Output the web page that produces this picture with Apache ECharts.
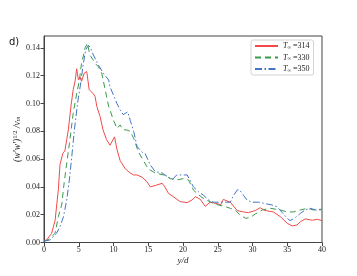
<!DOCTYPE html>
<html>
<head>
<meta charset="utf-8">
<script src="https://cdn.jsdelivr.net/npm/echarts@6/dist/echarts.min.js"></script>
<style>html,body{margin:0;padding:0;background:#fff}#c{width:357px;height:276px}</style>
</head>
<body>
<div id="c"></div>
<script>
var seriesNames = ['314', '330', '350'];
var xTicks = [0, 5, 10, 15, 20, 25, 30, 35, 40];
var yTicks = [0.00, 0.02, 0.04, 0.06, 0.08, 0.10, 0.12, 0.14];

var x314 = [0, 0.4, 1.1, 1.6, 2.06, 2.3, 2.7, 3.0, 3.27, 3.5, 3.9, 4.2, 4.47, 4.7, 4.95, 5.2, 5.4, 5.8, 6.15, 6.5, 7.1, 7.35, 7.6, 8.07, 8.5, 9.0, 9.5, 9.7, 10.15, 10.5, 10.95, 11.7, 12.4, 12.9, 13.4, 14.1, 14.8, 15.3, 16.0, 17.0, 17.4, 17.9, 18.6, 19.6, 20.6, 21.3, 21.8, 22.5, 23.2, 23.9, 24.9, 25.4, 25.8, 26.8, 27.8, 28.7, 29.4, 30.4, 31.1, 31.8, 33.0, 34.0, 35.0, 35.7, 36.4, 36.9, 37.6, 38.6, 39.3, 40];
var y314 = [0.001, 0.002, 0.0066, 0.016, 0.038, 0.056, 0.064, 0.066, 0.074, 0.081, 0.099, 0.110, 0.116, 0.125, 0.117, 0.119, 0.116, 0.122, 0.123, 0.110, 0.107, 0.105, 0.098, 0.0906, 0.081, 0.074, 0.070, 0.071, 0.076, 0.067, 0.059, 0.053, 0.050, 0.0486, 0.0486, 0.047, 0.0438, 0.040, 0.041, 0.0426, 0.040, 0.0354, 0.033, 0.0294, 0.0287, 0.0306, 0.033, 0.031, 0.026, 0.029, 0.028, 0.027, 0.031, 0.029, 0.023, 0.022, 0.0215, 0.023, 0.025, 0.023, 0.022, 0.0186, 0.0138, 0.0119, 0.0126, 0.015, 0.017, 0.016, 0.0167, 0.0157];

var x330 = [0, 0.6, 1.6, 2.06, 2.55, 2.9, 3.27, 3.65, 3.9, 4.2, 4.7, 5.1, 5.4, 5.7, 5.9, 6.25, 6.4, 6.6, 7.1, 7.35, 7.8, 8.3, 8.8, 9.3, 10.0, 10.5, 10.95, 11.4, 11.9, 12.4, 12.9, 13.6, 14.3, 15.0, 16.0, 17.2, 18.2, 19.1, 20.1, 20.8, 21.5, 22.0, 22.7, 23.4, 24.4, 25.1, 26.1, 26.8, 27.5, 28.2, 29.0, 29.7, 30.4, 31.4, 32.6, 34.0, 35.0, 35.9, 36.9, 37.9, 38.8, 40];
var y330 = [0.001, 0.002, 0.0066, 0.0186, 0.027, 0.043, 0.057, 0.071, 0.081, 0.093, 0.107, 0.117, 0.129, 0.135, 0.140, 0.1434, 0.1446, 0.135, 0.131, 0.129, 0.1266, 0.122, 0.110, 0.098, 0.088, 0.082, 0.0846, 0.081, 0.081, 0.080, 0.075, 0.065, 0.059, 0.053, 0.050, 0.0486, 0.046, 0.045, 0.046, 0.045, 0.0378, 0.0354, 0.0325, 0.0306, 0.028, 0.027, 0.0258, 0.0246, 0.0234, 0.0198, 0.0174, 0.018, 0.0205, 0.0234, 0.0246, 0.0234, 0.022, 0.022, 0.0234, 0.0246, 0.0234, 0.024];

var x350 = [0, 0.86, 1.8, 2.3, 2.8, 3.27, 3.65, 4.0, 4.37, 4.85, 5.2, 5.6, 5.9, 6.15, 6.4, 6.7, 7.1, 7.35, 7.8, 8.5, 9.3, 9.5, 10.0, 10.5, 10.95, 11.4, 12.05, 12.4, 12.9, 13.4, 14.1, 14.55, 15.3, 16.0, 17.0, 17.9, 18.4, 19.1, 20.1, 20.6, 21.0, 21.5, 22.2, 22.95, 23.7, 24.4, 25.4, 26.3, 26.8, 27.3, 27.8, 28.1, 28.7, 29.2, 29.9, 30.9, 31.8, 32.8, 33.5, 34.2, 35.0, 35.4, 36.2, 36.9, 37.6, 38.3, 39.1, 40];
var y350 = [0.001, 0.0018, 0.0066, 0.0114, 0.0186, 0.0306, 0.045, 0.062, 0.081, 0.101, 0.112, 0.1266, 0.136, 0.140, 0.142, 0.140, 0.135, 0.134, 0.128, 0.122, 0.117, 0.112, 0.106, 0.100, 0.0954, 0.092, 0.094, 0.088, 0.080, 0.069, 0.065, 0.064, 0.0558, 0.051, 0.050, 0.047, 0.045, 0.0486, 0.0486, 0.0486, 0.045, 0.040, 0.0366, 0.034, 0.0306, 0.029, 0.029, 0.029, 0.029, 0.034, 0.0378, 0.038, 0.034, 0.0306, 0.029, 0.029, 0.028, 0.027, 0.0258, 0.022, 0.0174, 0.0157, 0.018, 0.021, 0.0234, 0.0246, 0.0234, 0.0234];

function pairs(xs, ys) { return xs.map(function (x, i) { return [x, ys[i]]; }); }

var colors = ['#f24a4a', '#3a9a4a', '#4474c4'];
var dashes = ['solid', [6, 4], [7, 2.5, 1.5, 2.5]];
var dataSets = [pairs(x314, y314), pairs(x330, y330), pairs(x350, y350)];

var serif = '"Liberation Serif", "DejaVu Serif", serif';
var chart = echarts.init(document.getElementById('c'), null, { renderer: 'canvas' });
chart.setOption({
  animation: false,
  backgroundColor: '#fff',
  grid: { left: 44, right: 35, top: 36, bottom: 33.5, show: true, borderColor: '#444', borderWidth: 1, backgroundColor: 'transparent', containLabel: false, outerBoundsMode: 'none' },
  graphic: [{ type: 'text', left: 9, top: 37, style: { text: 'd)', font: '10px "DejaVu Sans", sans-serif', fill: '#111' } }],
  legend: {
    orient: 'vertical', left: 251, top: 40,
    backgroundColor: '#fff', borderColor: '#d4d4d4', borderWidth: 1, borderRadius: 2,
    padding: [2, 4, 2, 3], itemGap: 3.5, itemWidth: 23, itemHeight: 8,
    itemStyle: { opacity: 0 },
    data: seriesNames,
    formatter: function (n) { return '{t|T}{s|∞}{n| =' + n + '}'; },
    textStyle: {
      fontFamily: serif, fontSize: 8, color: '#222',
      rich: {
        t: { fontFamily: serif, fontStyle: 'italic', fontSize: 8 },
        s: { fontFamily: serif, fontSize: 5, verticalAlign: 'bottom', padding: [3, 0, 0, 0] },
        n: { fontFamily: serif, fontSize: 8 }
      }
    }
  },
  xAxis: {
    type: 'value', min: 0, max: 40, interval: 5,
    name: 'y/d', nameLocation: 'middle', nameGap: 14, nameMoveOverlap: false,
    nameTextStyle: { fontFamily: serif, fontStyle: 'italic', fontSize: 9, color: '#222' },
    axisLine: { show: true, onZero: false, lineStyle: { color: '#444', width: 1 } },
    axisTick: { show: true, inside: false, length: 3.5, lineStyle: { color: '#444' } },
    axisLabel: { fontFamily: serif, fontSize: 8, color: '#222', margin: 3,
      formatter: function (v) { return xTicks.indexOf(v) >= 0 ? String(v) : ''; } },
    splitLine: { show: false }
  },
  yAxis: {
    type: 'value', min: 0, max: 0.1486, interval: 0.02,
    name: '{a|(w′w′)}{s|1/2}{a| /v}{b|m}', nameLocation: 'middle', nameGap: 22, nameMoveOverlap: false,
    nameTextStyle: {
      fontFamily: serif, fontSize: 9.5, color: '#222',
      rich: {
        a: { fontFamily: serif, fontSize: 9.5, fontStyle: 'italic' },
        s: { fontFamily: serif, fontSize: 6.5, verticalAlign: 'top' },
        b: { fontFamily: serif, fontSize: 6.5, fontStyle: 'italic', verticalAlign: 'bottom' }
      }
    },
    axisLine: { show: true, lineStyle: { color: '#444', width: 1 } },
    axisTick: { show: true, inside: false, length: 3.5, lineStyle: { color: '#444' } },
    axisLabel: { fontFamily: serif, fontSize: 8, color: '#222', margin: 4, showMaxLabel: false,
      formatter: function (v) {
        for (var i = 0; i < yTicks.length; i++) { if (Math.abs(yTicks[i] - v) < 1e-6) return yTicks[i].toFixed(2); }
        return '';
      } },
    splitLine: { show: false }
  },
  series: seriesNames.map(function (n, i) {
    return {
      name: n, type: 'line', data: dataSets[i], symbol: 'none', smooth: false,
      lineStyle: { color: colors[i], width: 1, type: dashes[i] },
      itemStyle: { color: colors[i] }
    };
  })
});
</script>
</body>
</html>
